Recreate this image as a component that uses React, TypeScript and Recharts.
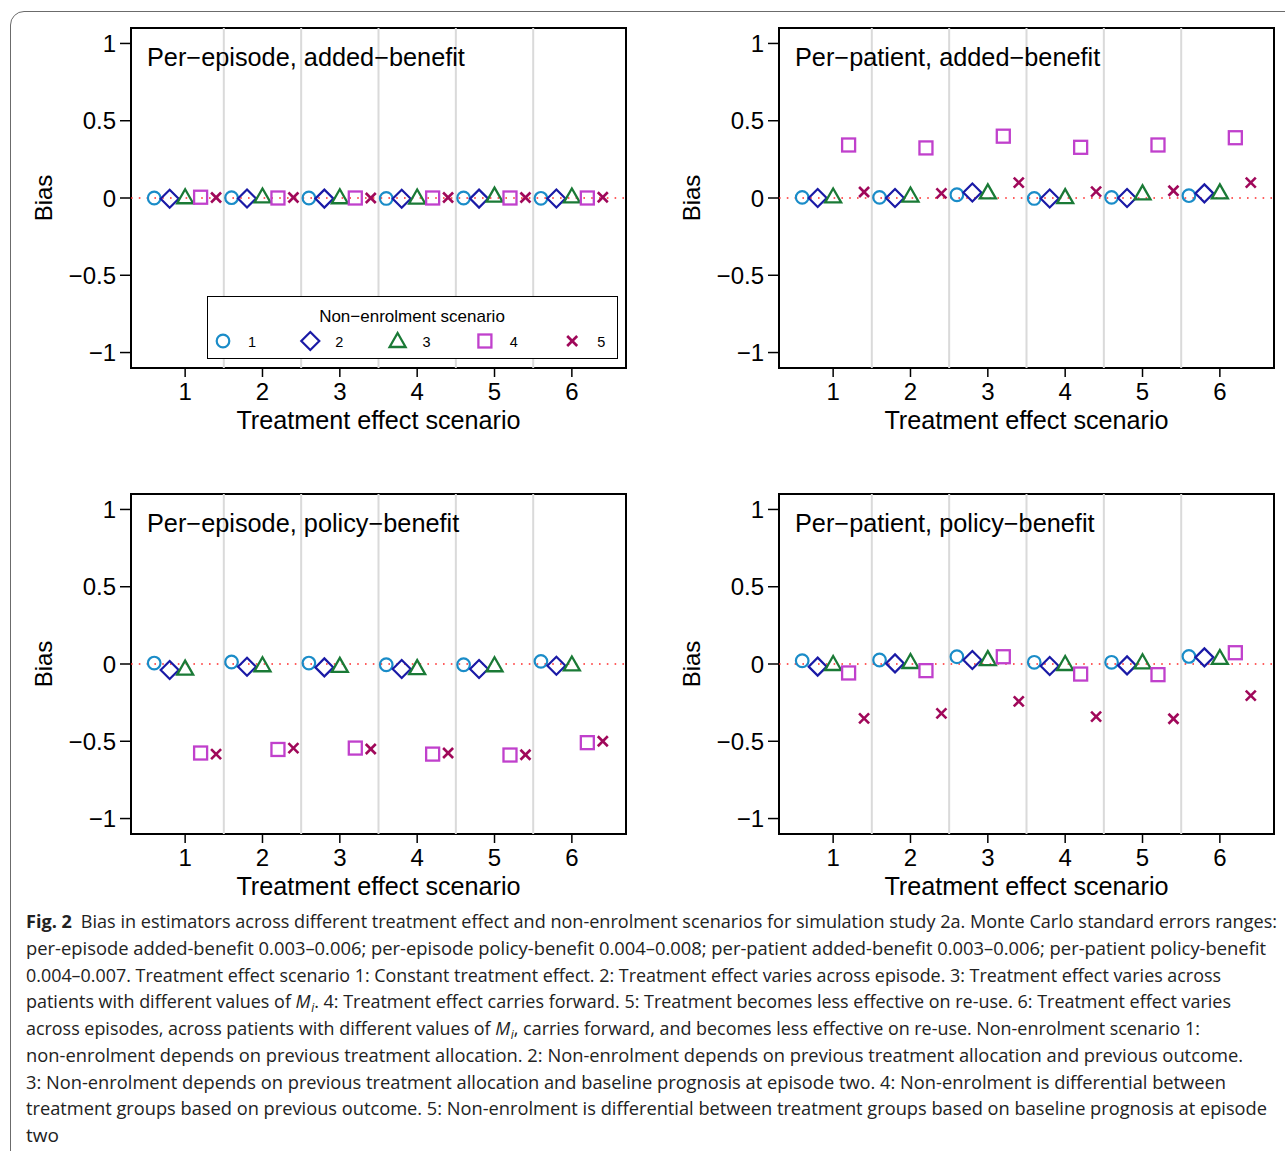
import React from "react";
import {
  ScatterChart,
  Scatter,
  XAxis,
  YAxis,
  ReferenceLine,
  ReferenceArea,
  Label,
} from "recharts";

// treatment effect scenarios on the x axis
const scenarios = [1, 2, 3, 4, 5, 6];
const separators = [1.5, 2.5, 3.5, 4.5, 5.5];
const yTicks = [-1, -0.5, 0, 0.5, 1];
// dodge of each non-enrolment scenario inside a group
const dodge = [-0.4, -0.2, 0, 0.2, 0.4];
const nonEnrolment = ["1", "2", "3", "4", "5"];

// bias, rows = non-enrolment scenario 1..5, cols = treatment effect scenario 1..6
const episodeAdded = [
  [0.0, 0.002, 0.0, -0.003, 0.0, -0.002],
  [-0.005, -0.003, -0.004, -0.005, -0.004, -0.003],
  [0.005, 0.01, 0.005, 0.003, 0.015, 0.01],
  [0.005, 0.0, 0.0, 0.0, 0.0, 0.0],
  [0.003, 0.003, 0.0, 0.003, 0.003, 0.005],
];
const patientAdded = [
  [0.004, 0.004, 0.021, -0.003, 0.004, 0.015],
  [0.0, 0.0, 0.036, -0.003, 0.0, 0.03],
  [0.01, 0.016, 0.036, 0.006, 0.03, 0.036],
  [0.343, 0.324, 0.4, 0.328, 0.343, 0.39],
  [0.039, 0.03, 0.1, 0.041, 0.047, 0.1],
];
const episodePolicy = [
  [0.006, 0.013, 0.006, -0.005, -0.005, 0.017],
  [-0.039, -0.018, -0.022, -0.032, -0.032, -0.011],
  [-0.03, -0.008, -0.012, -0.027, -0.008, -0.003],
  [-0.576, -0.553, -0.544, -0.583, -0.589, -0.509],
  [-0.583, -0.544, -0.55, -0.576, -0.587, -0.5],
];
const patientPolicy = [
  [0.021, 0.026, 0.047, 0.011, 0.011, 0.049],
  [-0.017, 0.004, 0.026, -0.013, -0.009, 0.043],
  [0.0, 0.013, 0.032, 0.0, 0.011, 0.039],
  [-0.058, -0.043, 0.047, -0.065, -0.069, 0.073],
  [-0.352, -0.32, -0.242, -0.341, -0.354, -0.205],
];

const COLORS = ["#1a8cc8", "#1a1aa6", "#1a7a36", "#c040cc", "#a0085a"];
const FONT = "'Liberation Sans', Arial, Helvetica, sans-serif";

function Marker({ kind, cx, cy }: { kind: number; cx: number; cy: number }) {
  const stroke = COLORS[kind];
  if (kind === 0)
    return <circle cx={cx} cy={cy} r={6.3} fill="none" stroke={stroke} strokeWidth={2.2} />;
  if (kind === 1)
    return (
      <polygon
        points={`${cx},${cy - 9} ${cx + 9},${cy} ${cx},${cy + 9} ${cx - 9},${cy}`}
        fill="none"
        stroke={stroke}
        strokeWidth={2.2}
      />
    );
  if (kind === 2)
    return (
      <polygon
        points={`${cx},${cy - 8} ${cx + 8},${cy + 6} ${cx - 8},${cy + 6}`}
        fill="none"
        stroke={stroke}
        strokeWidth={2.3}
      />
    );
  if (kind === 3)
    return (
      <rect x={cx - 6.5} y={cy - 6.5} width={13} height={13} fill="none" stroke={stroke} strokeWidth={2.3} />
    );
  return (
    <g stroke={stroke} strokeWidth={2.6}>
      <line x1={cx - 5} y1={cy - 5} x2={cx + 5} y2={cy + 5} />
      <line x1={cx - 5} y1={cy + 5} x2={cx + 5} y2={cy - 5} />
    </g>
  );
}

const fmt = (v: number) => String(v).replace("-", "\u2212");

function Panel({
  values,
  title,
  left,
  top,
  legend,
}: {
  values: number[][];
  title: string;
  left: number;
  top: number;
  legend?: boolean;
}) {
  return (
    <div style={{ position: "absolute", left, top, width: 640, height: 440 }}>
      <ScatterChart width={640} height={440} margin={{ top: 28, right: 14, bottom: 0, left: 0 }}>
        <XAxis
          type="number"
          dataKey="x"
          domain={[0.3, 6.7]}
          ticks={scenarios}
          allowDataOverflow
          height={72}
          axisLine={false}
          tickSize={9}
          tickMargin={6}
          tickLine={{ stroke: "#000", strokeWidth: 1.5 }}
          tick={{ fill: "#000", fontSize: 24 }}
        >
          <Label
            content={(p: any) => {
              const vb = p.viewBox;
              return (
                <text x={vb.x + vb.width / 2} y={vb.y + 61} textAnchor="middle" fontSize={25.2} fill="#000">
                  Treatment effect scenario
                </text>
              );
            }}
          />
        </XAxis>
        <YAxis
          type="number"
          dataKey="y"
          domain={[-1.1, 1.1]}
          ticks={yTicks}
          allowDataOverflow
          width={131}
          axisLine={false}
          tickSize={11}
          tickMargin={4}
          tickFormatter={fmt}
          tickLine={{ stroke: "#000", strokeWidth: 1.5 }}
          tick={{ fill: "#000", fontSize: 24 }}
        >
          <Label
            content={(p: any) => {
              const vb = p.viewBox;
              const cx = vb.x + 43;
              const cy = vb.y + vb.height / 2;
              return (
                <text
                  x={cx}
                  y={cy}
                  transform={`rotate(-90 ${cx} ${cy})`}
                  textAnchor="middle"
                  dominantBaseline="central"
                  fontSize={24}
                  fill="#000"
                >
                  Bias
                </text>
              );
            }}
          />
        </YAxis>
        {separators.map((s) => (
          <ReferenceLine key={s} x={s} stroke="#dadada" strokeWidth={2} />
        ))}
        <ReferenceLine y={0} stroke="#ff2a2a" strokeWidth={1.6} strokeDasharray="1.6 6.2" />
        <ReferenceArea x1={0.3} x2={6.7} y1={-1.1} y2={1.1} fill="none" stroke="#000" strokeWidth={2} />
        {values.map((row, k) => (
          <Scatter
            key={k}
            name={nonEnrolment[k]}
            data={scenarios.map((s, i) => ({ x: s + dodge[k], y: row[i] }))}
            isAnimationActive={false}
            shape={(p: any) => <Marker kind={k} cx={p.cx} cy={p.cy} />}
          />
        ))}
      </ScatterChart>
      <div
        style={{
          position: "absolute",
          left: 147,
          top: 41,
          fontSize: 25.3,
          lineHeight: "32px",
          color: "#000",
          whiteSpace: "nowrap",
        }}
      >
        {title}
      </div>
      {legend && (
        <div
          style={{
            position: "absolute",
            left: 207,
            top: 296,
            width: 411,
            height: 63,
            border: "1.5px solid #000",
            background: "#fff",
            boxSizing: "border-box",
          }}
        >
          <svg width={408} height={60} style={{ display: "block" }}>
            <text x={204} y={25} textAnchor="middle" fontSize={17} fill="#000">
              Non{"\u2212"}enrolment scenario
            </text>
            {nonEnrolment.map((n, k) => (
              <g key={n}>
                <Marker kind={k} cx={15 + k * 87.3} cy={44} />
                <text x={44 + k * 87.3} y={49.5} textAnchor="middle" fontSize={14.5} fill="#000">
                  {n}
                </text>
              </g>
            ))}
          </svg>
        </div>
      )}
    </div>
  );
}

const captionLines = [
  "Bias in estimators across different treatment effect and non-enrolment scenarios for simulation study 2a. Monte Carlo standard errors ranges:",
  "per-episode added-benefit 0.003\u20130.006; per-episode policy-benefit 0.004\u20130.008; per-patient added-benefit 0.003\u20130.006; per-patient policy-benefit",
  "0.004\u20130.007. Treatment effect scenario 1: Constant treatment effect. 2: Treatment effect varies across episode. 3: Treatment effect varies across",
  "patients with different values of {Mi}. 4: Treatment effect carries forward. 5: Treatment becomes less effective on re-use. 6: Treatment effect varies",
  "across episodes, across patients with different values of {Mi}, carries forward, and becomes less effective on re-use. Non-enrolment scenario 1:",
  "non-enrolment depends on previous treatment allocation. 2: Non-enrolment depends on previous treatment allocation and previous outcome.",
  "3: Non-enrolment depends on previous treatment allocation and baseline prognosis at episode two. 4: Non-enrolment is differential between",
  "treatment groups based on previous outcome. 5: Non-enrolment is differential between treatment groups based on baseline prognosis at episode",
  "two",
];
const captionWidths = [1251, 1240, 1195, 1205, 1174, 1217, 1200, 1241, 33];

function CaptionLine({ text, index }: { text: string; index: number }) {
  const parts = text.split("{Mi}");
  return (
    <text
      x={26}
      y={928 + index * 26.75}
      fontSize={18}
      fill="#222"
      textLength={captionWidths[index]}
      lengthAdjust="spacingAndGlyphs"
    >
      {index === 0 && <tspan fontWeight="bold">Fig. 2</tspan>}
      {parts.map((p, i) => (
        <React.Fragment key={i}>
          {i > 0 && (
            <>
              <tspan fontStyle="italic">M</tspan>
              <tspan fontStyle="italic" fontSize={12} dx={0.5} dy={4}>
                i
              </tspan>
            </>
          )}
          <tspan dy={i > 0 ? -4 : 0} dx={index === 0 && i === 0 ? 9 : 0}>
            {p}
          </tspan>
        </React.Fragment>
      ))}
    </text>
  );
}

export default function App() {
  return (
    <div
      style={{
        position: "absolute",
        left: 0,
        top: 0,
        width: 1285,
        height: 1151,
        overflow: "hidden",
        background: "#fff",
        fontFamily: FONT,
      }}
    >
      <div
        style={{
          position: "absolute",
          left: 10,
          top: 11,
          width: 1320,
          height: 1220,
          border: "1.5px solid #6b6b6b",
          borderRadius: 14,
        }}
      />
      <Panel values={episodeAdded} title={"Per\u2212episode, added\u2212benefit"} left={0} top={0} legend />
      <Panel values={patientAdded} title={"Per\u2212patient, added\u2212benefit"} left={648} top={0} />
      <Panel values={episodePolicy} title={"Per\u2212episode, policy\u2212benefit"} left={0} top={466} />
      <Panel values={patientPolicy} title={"Per\u2212patient, policy\u2212benefit"} left={648} top={466} />
      <svg
        width={1285}
        height={1151}
        style={{ position: "absolute", left: 0, top: 0, pointerEvents: "none" }}
      >
        <g style={{ fontFamily: "'Open Sans', 'Noto Sans', sans-serif" }}>
          {captionLines.map((t, i) => (
            <CaptionLine key={i} text={t} index={i} />
          ))}
        </g>
      </svg>
    </div>
  );
}
